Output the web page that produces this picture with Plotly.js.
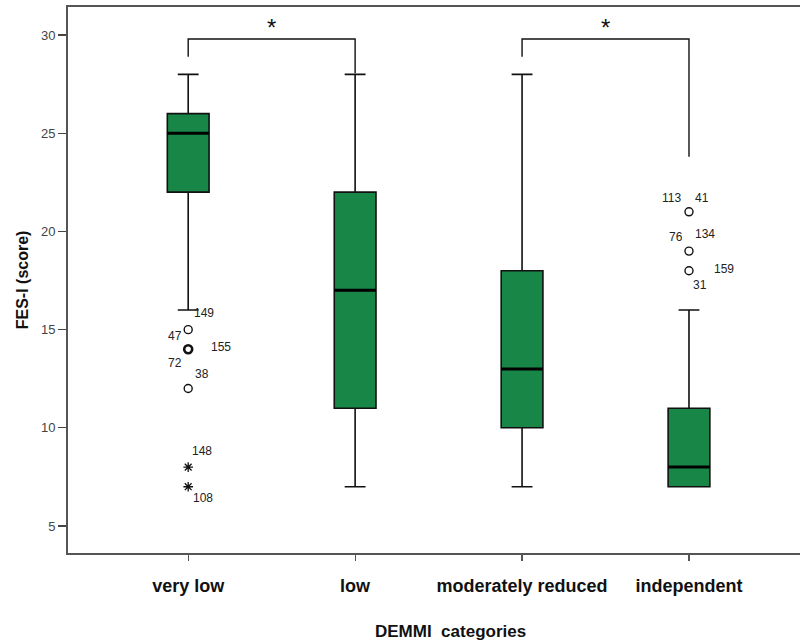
<!DOCTYPE html>
<html>
<head>
<meta charset="utf-8">
<script src="https://cdn.plot.ly/plotly-3.0.1.min.js"></script>
<style>html,body{margin:0;padding:0;background:#fff;}#chart{width:800px;height:642px;}</style>
</head>
<body>
<div id="chart"></div>
<script>
// ---- data ----
var categories = ["very low", "low", "moderately reduced", "independent"];
var lowerFence = [16, 7, 7, 7];
var q1 = [22, 11, 10, 7];
var median = [25, 17, 13, 8];
var q3 = [26, 22, 18, 11];
var upperFence = [28, 28, 28, 16];

// outliers (circles): group index, value, count of overlapping cases
var outGroup = [0, 0, 0, 3, 3, 3];
var outValue = [15, 14, 12, 21, 19, 18];
var outCount = [1, 3, 1, 2, 2, 2];
// extreme values (stars)
var extGroup = [0, 0];
var extValue = [8, 7];

// case labels
var labelText = ["149", "47", "155", "72", "38", "148", "108", "113", "41", "76", "134", "159", "31"];
var labelGroup = [0, 0, 0, 0, 0, 0, 0, 3, 3, 3, 3, 3, 3];
var labelValue = [15, 15, 14, 14, 12, 8, 7, 21, 21, 19, 19, 18, 18];

// significance brackets
var bracketFrom = [0, 2];
var bracketTo = [1, 3];
var bracketText = ["*", "*"];

// ---- layout helpers (positions/styles) ----
var labelDx = [16, -13, 33, -13, 14, 14, 15, -17, 13, -13, 16, 35, 11];
var labelDy = [0.84, -0.33, 0.11, -0.70, 0.74, 0.83, -0.55, 0.7, 0.7, 0.7, 0.85, 0.1, -0.75];
var bracketTopY = 29.8;
var bracketLegEndFrom = [28.9, 28.9];
var bracketLegEndTo = [28.05, 23.8];
var boxW = 0.25;
var green = "rgb(24,134,70)";
var FONT = "Liberation Sans, Arial, sans-serif";

var traces = [];
traces.push({
  type: "box",
  x: [0, 1, 2, 3],
  q1: q1, median: median, q3: q3,
  lowerfence: lowerFence, upperfence: upperFence,
  width: boxW,
  whiskerwidth: 0.5,
  fillcolor: green,
  line: {color: "#111", width: 1.6},
  boxpoints: false,
  hoverinfo: "skip",
  showlegend: false
});

// thicker median lines
var mx = [], my = [];
for (var i = 0; i < median.length; i++) {
  mx.push(i - boxW / 2, i + boxW / 2, null);
  my.push(median[i], median[i], null);
}
traces.push({type: "scatter", mode: "lines", x: mx, y: my,
  line: {color: "#000", width: 3}, hoverinfo: "skip", showlegend: false});

// outliers
traces.push({type: "scatter", mode: "markers", x: outGroup, y: outValue,
  marker: {symbol: "circle-open", size: 8, color: "#111",
    line: {color: "#111", width: outCount.map(function(c){return c > 2 ? 2.6 : 1.4;})}},
  hoverinfo: "skip", showlegend: false});
traces.push({type: "scatter", mode: "markers", x: extGroup, y: extValue,
  marker: {symbol: "asterisk-open", size: 8, color: "#111", line: {color: "#111", width: 1.3}},
  hoverinfo: "skip", showlegend: false});

// brackets
for (var b = 0; b < bracketFrom.length; b++) {
  traces.push({type: "scatter", mode: "lines",
    x: [bracketFrom[b], bracketFrom[b], bracketTo[b], bracketTo[b]],
    y: [bracketLegEndFrom[b], bracketTopY, bracketTopY, bracketLegEndTo[b]],
    line: {color: "#111", width: 1.4}, hoverinfo: "skip", showlegend: false});
}

var annotations = [];
for (var k = 0; k < labelText.length; k++) {
  annotations.push({x: labelGroup[k], y: labelValue[k] + labelDy[k], xref: "x", yref: "y",
    text: labelText[k], showarrow: false, xshift: labelDx[k],
    font: {family: FONT, size: 12, color: "#222"}});
}
for (var b2 = 0; b2 < bracketFrom.length; b2++) {
  annotations.push({x: (bracketFrom[b2] + bracketTo[b2]) / 2, y: bracketTopY, xref: "x", yref: "y",
    text: bracketText[b2], showarrow: false, yanchor: "bottom", yshift: -4,
    font: {family: FONT, size: 24, color: "#111"}});
}
annotations.push({x: 0.523, y: -0.143, xref: "paper", yref: "paper", text: "DEMMI  categories",
  showarrow: false, yanchor: "middle",
  font: {family: FONT, size: 17, color: "#111", weight: "bold"}});
annotations.push({x: -0.0625, y: 0.5, xref: "paper", yref: "paper", text: "FES-I (score)", textangle: -90,
  showarrow: false, xanchor: "center",
  font: {family: FONT, size: 16, color: "#111", weight: "bold"}});

var layout = {
  width: 800, height: 642,
  margin: {l: 68, r: 0, t: 7, b: 89},
  paper_bgcolor: "#fff", plot_bgcolor: "#fff",
  showlegend: false,
  xaxis: {
    range: [-0.72, 3.665], tickvals: [0, 1, 2, 3], ticktext: categories,
    showline: true, mirror: true, linecolor: "#555", linewidth: 2,
    ticks: "outside", ticklen: 6, tickcolor: "#555", tickwidth: 1.2,
    showgrid: false, zeroline: false, ticklabelstandoff: 9,
    tickfont: {family: FONT, size: 18, color: "#111", weight: "bold"}
  },
  yaxis: {
    range: [3.625, 31.43], tickvals: [5, 10, 15, 20, 25, 30],
    showline: true, linecolor: "#555", linewidth: 2,
    ticks: "outside", ticklen: 8, tickcolor: "#444", tickwidth: 1.2,
    showgrid: false, zeroline: false,
    tickfont: {family: FONT, size: 13, color: "#444"}
  },
  annotations: annotations
};

Plotly.newPlot("chart", traces, layout, {staticPlot: true, displayModeBar: false});
</script>
</body>
</html>
